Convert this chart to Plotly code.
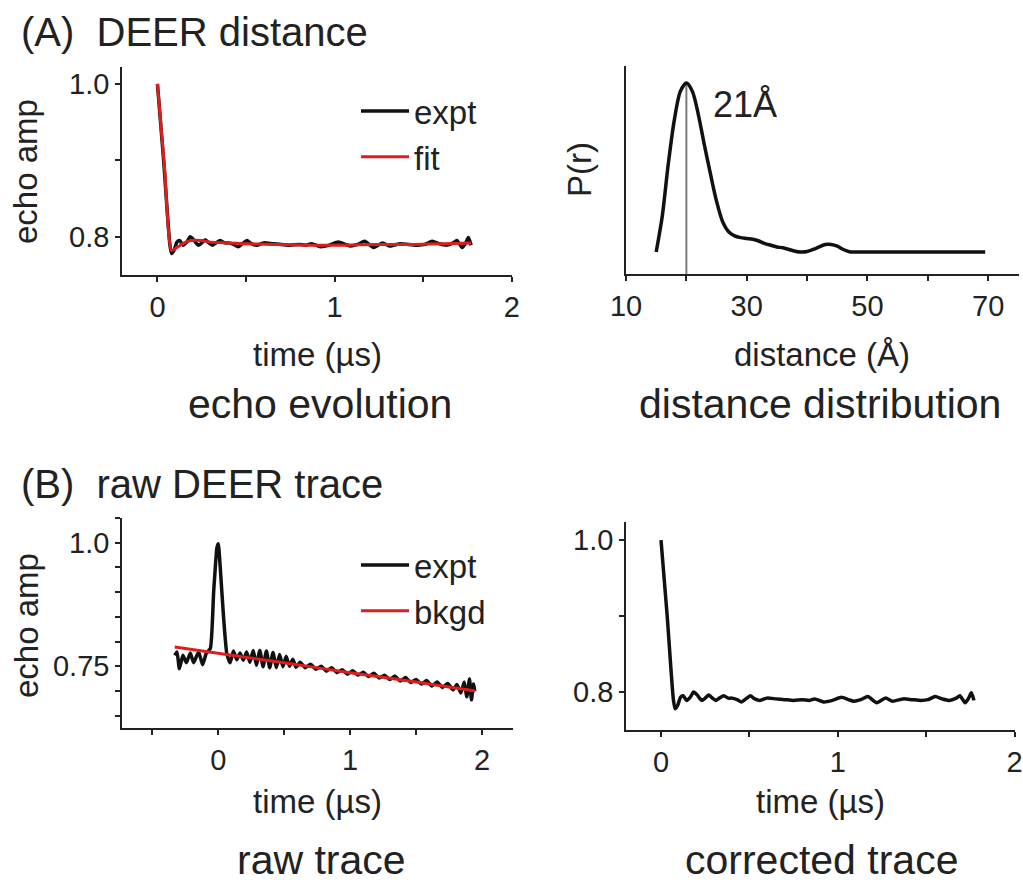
import plotly.graph_objects as go

# ---------------- data ----------------
# corrected / experimental echo evolution (panel A left expt and panel B right)
corr_time = [0.0, 0.035, 0.07, 0.08, 0.095, 0.11, 0.125, 0.145, 0.165, 0.185, 0.205, 0.23, 0.25,
             0.27, 0.29, 0.31, 0.33, 0.355, 0.38, 0.40, 0.43, 0.455, 0.48, 0.505, 0.53, 0.56,
             0.60, 0.65, 0.70, 0.75, 0.80, 0.84, 0.87, 0.92, 0.97, 1.02, 1.06, 1.09, 1.13,
             1.17, 1.22, 1.27, 1.31, 1.37, 1.42, 1.47, 1.51, 1.55, 1.59, 1.63, 1.67, 1.69,
             1.72, 1.74, 1.755, 1.77]
corr_amp = [1.0, 0.90, 0.79, 0.778, 0.783, 0.793, 0.795, 0.789, 0.793, 0.800, 0.796, 0.789, 0.792,
            0.796, 0.792, 0.789, 0.792, 0.795, 0.792, 0.792, 0.790, 0.787, 0.791, 0.795, 0.791,
            0.789, 0.792, 0.791, 0.790, 0.789, 0.790, 0.789, 0.791, 0.787, 0.789, 0.793, 0.790,
            0.788, 0.790, 0.794, 0.786, 0.792, 0.788, 0.791, 0.790, 0.789, 0.790, 0.794, 0.791,
            0.789, 0.792, 0.795, 0.786, 0.792, 0.799, 0.789]

# fit of the echo evolution
fit_time = [0.0, 0.04, 0.08, 0.11, 0.15, 0.19, 0.25, 0.30, 0.40, 0.49, 0.65, 0.86, 1.05, 1.23, 1.45, 1.62, 1.77]
fit_amp = [1.0, 0.89, 0.782, 0.786, 0.792, 0.795, 0.795, 0.793, 0.792, 0.791, 0.790, 0.789, 0.789,
           0.790, 0.790, 0.791, 0.792]

# distance distribution
dist_r = [15, 16, 17, 18, 19, 20, 21, 22, 23, 24, 25, 26, 27, 28, 29, 30, 31, 32, 33, 34, 35, 36,
          37, 38, 39, 40, 41, 42, 43, 44, 45, 46, 47, 48, 55, 62, 69.5]
dist_p = [0.0, 0.21, 0.52, 0.78, 0.95, 1.0, 0.95, 0.81, 0.63, 0.46, 0.30, 0.18, 0.12, 0.095, 0.085,
          0.08, 0.075, 0.065, 0.05, 0.04, 0.03, 0.025, 0.015, 0.005, 0.0, 0.003, 0.015, 0.03,
          0.045, 0.045, 0.035, 0.015, 0.002, 0.0, 0.0, 0.0, 0.0]
peak_r = 20
peak_p = 1.0
peak_label = "21Å"

# raw DEER trace
raw_time = [-0.33, -0.313, -0.295, -0.268, -0.242, -0.212, -0.187, -0.149, -0.119, -0.091, -0.06,
            -0.035, -0.01, 0.0, 0.015, 0.04, 0.065, 0.09, 0.115, 0.14, 0.165, 0.19, 0.215, 0.24,
            0.265, 0.29, 0.315, 0.34, 0.365, 0.39, 0.415, 0.44, 0.465, 0.49, 0.515, 0.54, 0.565,
            0.59, 0.62, 0.66, 0.70, 0.74, 0.78, 0.82, 0.86, 0.90, 0.94, 0.98, 1.02, 1.06, 1.10,
            1.14, 1.18, 1.22, 1.26, 1.30, 1.34, 1.38, 1.42, 1.46, 1.50, 1.54, 1.58, 1.62, 1.66,
            1.70, 1.74, 1.78, 1.81, 1.84, 1.865, 1.885, 1.905, 1.92, 1.935, 1.945]
raw_amp = [0.772, 0.779, 0.745, 0.772, 0.757, 0.777, 0.757, 0.779, 0.753, 0.776, 0.786,
           0.90, 0.99, 0.998, 0.95, 0.85, 0.775, 0.757, 0.781, 0.763, 0.777, 0.762, 0.779, 0.758,
           0.782, 0.752, 0.782, 0.749, 0.781, 0.747, 0.778, 0.747, 0.774, 0.749, 0.770, 0.750,
           0.764, 0.748, 0.758, 0.747, 0.754, 0.744, 0.750, 0.740, 0.747, 0.737, 0.743, 0.734,
           0.741, 0.732, 0.738, 0.729, 0.736, 0.726, 0.732, 0.723, 0.730, 0.720, 0.727, 0.717,
           0.723, 0.714, 0.721, 0.710, 0.718, 0.707, 0.715, 0.702, 0.713, 0.696, 0.718, 0.688,
           0.724, 0.682, 0.714, 0.700]

# background fit of the raw trace
bkgd_time = [-0.33, 0.5, 1.0, 1.5, 1.95]
bkgd_amp = [0.789, 0.757, 0.737, 0.718, 0.700]

# tick values / labels
time_ticks = [0, 0.5, 1, 1.5, 2]
time_ticktext = ["0", "", "1", "", "2"]
raw_time_ticks = [-0.5, 0, 0.5, 1, 1.5, 2]
raw_time_ticktext = ["", "0", "", "1", "", "2"]
amp_ticks = [0.8, 0.9, 1.0]
amp_ticktext = ["0.8", "", "1.0"]
raw_amp_ticks = [0.65, 0.70, 0.75, 0.80, 0.85, 0.90, 0.95, 1.00, 1.05]
raw_amp_ticktext = ["", "", "0.75", "", "", "", "", "1.0", ""]
dist_ticks = [10, 20, 30, 40, 50, 60, 70]
dist_ticktext = ["10", "", "30", "", "50", "", "70"]

# ---------------- figure ----------------
W, H = 1023, 884
BLACK = "#111111"
RED = "#dc1e1e"
FONT = "Arial, Liberation Sans, sans-serif"


def px(x):
    return x / W


def py(y):
    return 1 - y / H


fig = go.Figure()

# panel A left
fig.add_trace(go.Scatter(x=corr_time, y=corr_amp, mode="lines", name="expt",
                         line=dict(color=BLACK, width=3.5, shape="spline", smoothing=0.6),
                         xaxis="x", yaxis="y", legend="legend"))
fig.add_trace(go.Scatter(x=fit_time, y=fit_amp, mode="lines", name="fit",
                         line=dict(color=RED, width=3, shape="spline", smoothing=0.6),
                         xaxis="x", yaxis="y", legend="legend"))

# panel A right
fig.add_trace(go.Scatter(x=[peak_r, peak_r], y=[-0.13, peak_p], mode="lines", showlegend=False,
                         line=dict(color="#7a7a7a", width=2), xaxis="x2", yaxis="y2"))
fig.add_trace(go.Scatter(x=dist_r, y=dist_p, mode="lines", showlegend=False,
                         line=dict(color=BLACK, width=3.5, shape="spline", smoothing=0.8),
                         xaxis="x2", yaxis="y2"))

# panel B left
fig.add_trace(go.Scatter(x=raw_time, y=raw_amp, mode="lines", name="expt",
                         line=dict(color=BLACK, width=3.5, shape="spline", smoothing=0.5),
                         xaxis="x3", yaxis="y3", legend="legend2"))
fig.add_trace(go.Scatter(x=bkgd_time, y=bkgd_amp, mode="lines", name="bkgd",
                         line=dict(color=RED, width=3, shape="spline", smoothing=0.6),
                         xaxis="x3", yaxis="y3", legend="legend2"))

# panel B right
fig.add_trace(go.Scatter(x=corr_time, y=corr_amp, mode="lines", showlegend=False,
                         line=dict(color=BLACK, width=3.5, shape="spline", smoothing=0.6),
                         xaxis="x4", yaxis="y4"))

axis_common = dict(showline=True, linecolor="#222", linewidth=1.5, ticks="outside", ticklen=5,
                   tickwidth=1.5, tickcolor="#222", showgrid=False, zeroline=False,
                   automargin=False, ticklabeloverflow="allow",
                   tickfont=dict(family=FONT, size=29, color="#222"), tickmode="array")

legend_common = dict(xanchor="left", yanchor="top", bgcolor="rgba(0,0,0,0)", itemwidth=48,
                     font=dict(family=FONT, size=33, color="#222"))

fig.update_layout(
    width=W, height=H, margin=dict(l=0, r=0, t=0, b=0, autoexpand=False),
    paper_bgcolor="white", plot_bgcolor="white",
    font=dict(family=FONT, color="#222"),
    xaxis=dict(domain=[px(122), px(512)], range=[-0.2, 2.001], tickvals=time_ticks,
               ticktext=time_ticktext, anchor="y", **axis_common),
    yaxis=dict(domain=[py(275), py(67)], range=[0.75, 1.022], tickvals=amp_ticks,
               ticktext=amp_ticktext, anchor="x", **axis_common),
    xaxis2=dict(domain=[px(626), px(1019)], range=[10, 75.1], tickvals=dist_ticks,
                ticktext=dist_ticktext, anchor="y2", **axis_common),
    yaxis2=dict(domain=[py(274), py(66)], range=[-0.13, 1.10], showline=True, linecolor="#222",
                linewidth=1.5, showticklabels=False, ticks="", showgrid=False, zeroline=False,
                automargin=False, anchor="x2"),
    xaxis3=dict(domain=[px(122), px(513)], range=[-0.73, 2.235], tickvals=raw_time_ticks,
                ticktext=raw_time_ticktext, anchor="y3", **axis_common),
    yaxis3=dict(domain=[py(728), py(518)], range=[0.625, 1.05], tickvals=raw_amp_ticks,
                ticktext=raw_amp_ticktext, anchor="x3", **axis_common),
    xaxis4=dict(domain=[px(626), px(1015)], range=[-0.198, 2.002], tickvals=time_ticks,
                ticktext=time_ticktext, anchor="y4", **axis_common),
    yaxis4=dict(domain=[py(730), py(522)], range=[0.75, 1.024], tickvals=amp_ticks,
                ticktext=amp_ticktext, anchor="x4", **axis_common),
    legend=dict(x=px(356), y=py(83), **legend_common),
    legend2=dict(x=px(356), y=py(537), **legend_common),
)

annots = [
    dict(text="(A)  DEER distance", x=px(19), y=py(32), xanchor="left", size=40),
    dict(text="(B)  raw DEER trace", x=px(19), y=py(484), xanchor="left", size=40),
    dict(text="echo evolution", x=px(320), y=py(404), xanchor="center", size=41),
    dict(text="distance distribution", x=px(820), y=py(404), xanchor="center", size=41),
    dict(text="raw trace", x=px(321), y=py(860), xanchor="center", size=41),
    dict(text="corrected trace", x=px(821), y=py(860), xanchor="center", size=41),
    dict(text="time (µs)", x=px(317), y=py(354), xanchor="center", size=33),
    dict(text="distance (Å)", x=px(822), y=py(354), xanchor="center", size=33),
    dict(text="time (µs)", x=px(317), y=py(801), xanchor="center", size=33),
    dict(text="time (µs)", x=px(820), y=py(801), xanchor="center", size=33),
    dict(text="echo amp", x=px(26), y=py(172), xanchor="center", size=33, angle=-90),
    dict(text="echo amp", x=px(26), y=py(626), xanchor="center", size=33, angle=-90),
    dict(text="P(r)", x=px(580), y=py(170), xanchor="center", size=33, angle=-90),
    dict(text=peak_label, x=px(711), y=py(104), xanchor="left", size=36),
]
for a in annots:
    fig.add_annotation(text=a["text"], x=a["x"], y=a["y"], xref="paper", yref="paper",
                       xanchor=a["xanchor"], yanchor="middle", showarrow=False,
                       textangle=a.get("angle", 0),
                       font=dict(family=FONT, size=a["size"], color="#222"))

fig.write_html("out.html")
